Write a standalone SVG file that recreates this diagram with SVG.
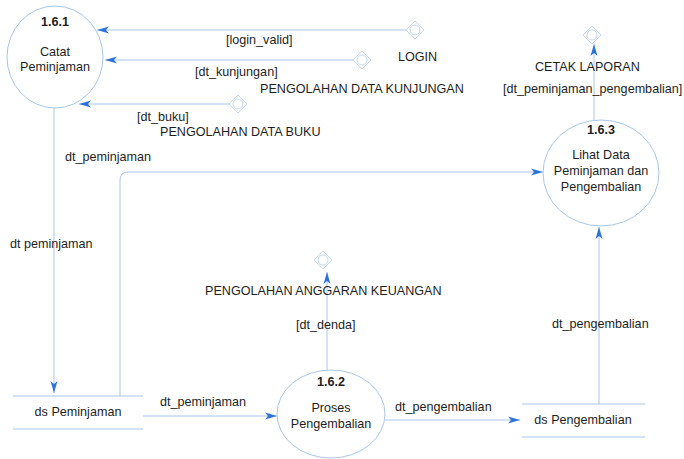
<svg xmlns="http://www.w3.org/2000/svg" width="684" height="459" viewBox="0 0 684 459">
  <defs>
    <style>
      .bg { fill: #ffffff; }
      .proc { fill: #ffffff; stroke: #a9c6e6; stroke-width: 1; }
      .flow { fill: none; stroke: #a9c6e6; stroke-width: 1; }
      .store { stroke: #a9c6e6; stroke-width: 1; }
      .conn { fill: #ffffff; stroke: #c6daf0; stroke-width: 1; }
      text { font-family: "Liberation Sans", Arial, sans-serif; font-size: 12.6px; fill: #1e1e1e; }
      .c { text-anchor: middle; }
      .num { font-weight: bold; }
    </style>
    <marker id="arrow" markerUnits="userSpaceOnUse" markerWidth="14" markerHeight="8" refX="12" refY="4" orient="auto">
      <path d="M0,0.5 L12,4 L0,7.5 L3,4 Z" fill="#2f73d8"/>
    </marker>
    <!-- off-page connector: diamond with a circle inside -->
    <g id="offpage">
      <path class="conn" d="M0,-9 L9,0 L0,9 L-9,0 Z"/>
      <circle class="conn" r="5"/>
    </g>
  </defs>

  <rect class="bg" width="684" height="459"/>

  <!-- connectors -->
  <g id="connectors">
    <line class="flow" x1="407" y1="30" x2="97" y2="30" marker-end="url(#arrow)"/>
    <line class="flow" x1="353" y1="60" x2="105" y2="60" marker-end="url(#arrow)"/>
    <line class="flow" x1="229" y1="104" x2="79" y2="104" marker-end="url(#arrow)"/>
    <line class="flow" x1="54" y1="108" x2="54" y2="393" marker-end="url(#arrow)"/>
    <path class="flow" d="M120,396 V180 Q120,172 128,172 H543" marker-end="url(#arrow)"/>
    <line class="flow" x1="594" y1="120" x2="594" y2="44" marker-end="url(#arrow)"/>
    <line class="flow" x1="327" y1="370" x2="327" y2="272" marker-end="url(#arrow)"/>
    <line class="flow" x1="143" y1="416" x2="277" y2="416" marker-end="url(#arrow)"/>
    <line class="flow" x1="385" y1="420" x2="520" y2="420" marker-end="url(#arrow)"/>
    <line class="flow" x1="599" y1="404" x2="599" y2="227" marker-end="url(#arrow)"/>

    <use href="#offpage" x="415" y="30"/>
    <use href="#offpage" x="362" y="60"/>
    <use href="#offpage" x="238" y="104"/>
    <use href="#offpage" x="592" y="35"/>
    <use href="#offpage" x="323" y="260"/>

    <text x="226" y="44">[login_valid]</text>
    <text x="398" y="61">LOGIN</text>
    <text x="195" y="76">[dt_kunjungan]</text>
    <text x="260" y="93">PENGOLAHAN DATA KUNJUNGAN</text>
    <text x="137" y="121">[dt_buku]</text>
    <text x="160" y="136">PENGOLAHAN DATA BUKU</text>
    <text x="65" y="161">dt_peminjaman</text>
    <text x="10" y="248">dt peminjaman</text>
    <text x="535" y="71">CETAK LAPORAN</text>
    <text x="503" y="93">[dt_peminjaman_pengembalian]</text>
    <text x="205" y="295">PENGOLAHAN ANGGARAN KEUANGAN</text>
    <text x="296" y="329">[dt_denda]</text>
    <text x="552" y="328">dt_pengembalian</text>
    <text x="160" y="406">dt_peminjaman</text>
    <text x="395" y="411">dt_pengembalian</text>
  </g>

  <!-- process 1.6.1 -->
  <g id="p161">
    <ellipse class="proc" cx="55" cy="57" rx="48" ry="51"/>
    <text class="c num" x="55" y="26">1.6.1</text>
    <text class="c" x="55" y="56">Catat</text>
    <text class="c" x="55" y="71">Peminjaman</text>
  </g>

  <!-- process 1.6.3 -->
  <g id="p163">
    <ellipse class="proc" cx="601" cy="173" rx="58" ry="53"/>
    <text class="c num" x="601" y="134">1.6.3</text>
    <text class="c" x="601" y="159">Lihat Data</text>
    <text class="c" x="601" y="175">Peminjaman dan</text>
    <text class="c" x="601" y="191">Pengembalian</text>
  </g>

  <!-- process 1.6.2 -->
  <g id="p162">
    <ellipse class="proc" cx="331" cy="414" rx="54" ry="44"/>
    <text class="c num" x="331" y="386">1.6.2</text>
    <text class="c" x="331" y="412">Proses</text>
    <text class="c" x="331" y="428">Pengembalian</text>
  </g>

  <!-- data store: ds Peminjaman -->
  <g id="dsPeminjaman">
    <line class="store" x1="13" y1="396" x2="143" y2="396"/>
    <line class="store" x1="13" y1="429" x2="143" y2="429"/>
    <text class="c" x="78" y="416">ds Peminjaman</text>
  </g>

  <!-- data store: ds Pengembalian -->
  <g id="dsPengembalian">
    <line class="store" x1="522" y1="404" x2="645" y2="404"/>
    <line class="store" x1="522" y1="437" x2="645" y2="437"/>
    <text class="c" x="583" y="424">ds Pengembalian</text>
  </g>
</svg>
